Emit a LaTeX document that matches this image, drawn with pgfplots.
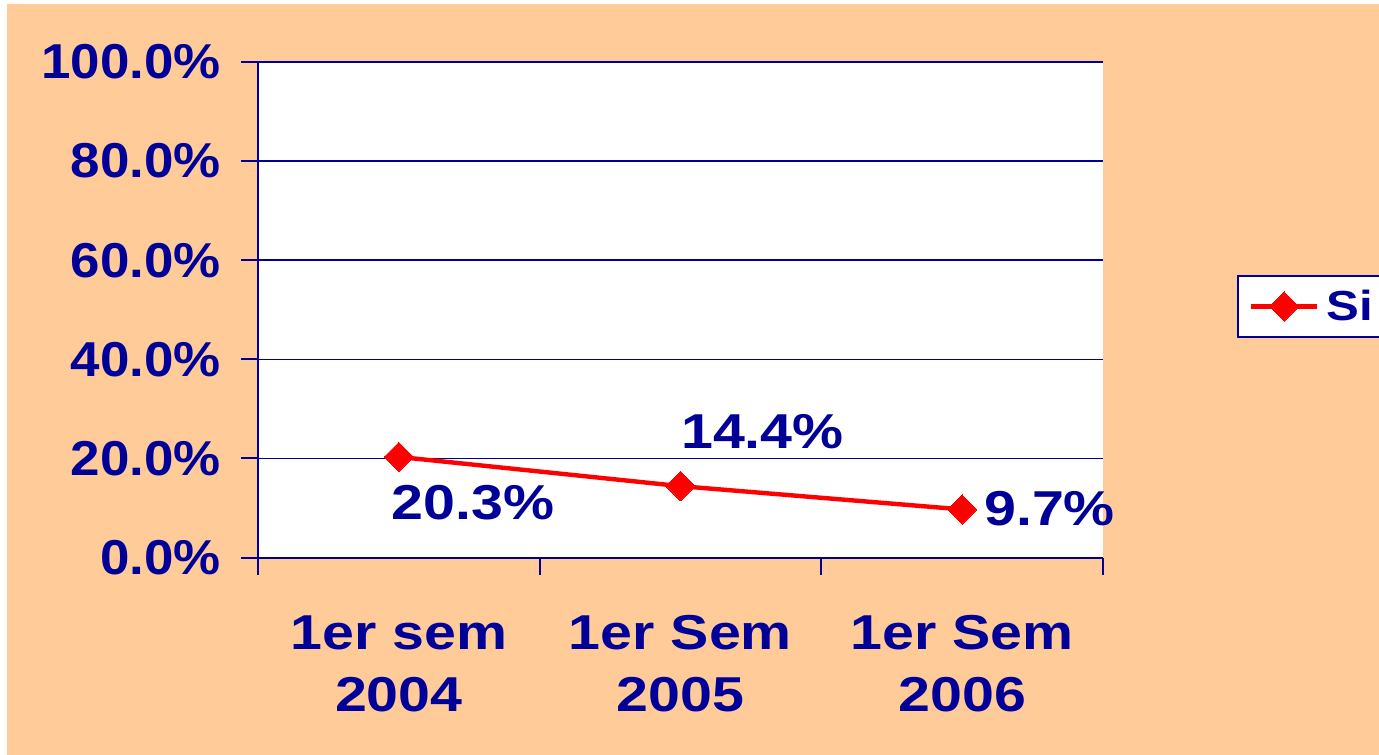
\documentclass[border=0pt]{standalone}
\usepackage{pgfplots}
\pgfplotsset{compat=1.18}
\usepackage{fontspec}
\setmainfont{Liberation Sans}
\newfontfamily\tickfam[FakeStretch=1.08]{Liberation Sans}
\newfontfamily\widefam[FakeStretch=1.17]{Liberation Sans}
\definecolor{peach}{HTML}{FFCC99}
\definecolor{navy}{HTML}{000099}
\newcommand{\tickfont}{\tickfam\fontsize{24.5bp}{31bp}\selectfont\bfseries}
\newcommand{\bigfont}{\widefam\fontsize{24.5bp}{31bp}\selectfont\bfseries}
\newcommand{\legfont}{\widefam\fontsize{21bp}{25bp}\selectfont\bfseries}
\pgfplotstableread{
x y
0 20.3
1 14.4
2 9.7
}\sidata
\begin{document}
\begin{tikzpicture}
\useasboundingbox (0bp,0bp) rectangle (689.5bp,377.5bp);
\fill[white] (0bp,0bp) rectangle (689.5bp,377.5bp);
\fill[peach] (3.5bp,0bp) rectangle (689.5bp,375.5bp);
\begin{axis}[
  at={(129bp,98.75bp)}, anchor=south west,
  scale only axis, width=422.5bp, height=247.75bp,
  xmin=-0.5, xmax=2.5, ymin=0, ymax=100,
  axis background/.style={fill=white},
  axis line style={navy, line width=1bp},
  axis x line*=bottom, axis y line*=left,
  xtick={0,1,2},
  xticklabels={{1er sem\\2004},{1er Sem\\2005},{1er Sem\\2006}},
  minor xtick={-0.5,0.5,1.5,2.5},
  major x tick style={draw=none},
  minor tick length=8.5bp,
  major tick length=8.5bp,
  tick align=outside,
  tick style={navy, line width=1bp},
  ytick={0,20,40,60,80,100},
  yticklabel={\pgfmathprintnumber[fixed,fixed zerofill,precision=1]{\tick}\%},
  /pgf/number format/assume math mode=true,
  ymajorgrids,
  grid style={navy, line width=0.7bp},
  ticklabel style={text=navy},
  xticklabel style={align=center, yshift=-17bp, font=\bigfont},
  yticklabel style={xshift=-6.5bp, font=\tickfont},
  legend style={at={(axis description cs:1.1586,0.5066)}, anchor=west,
    draw=navy, line width=1bp, fill=white, font=\legfont, text=navy,
    inner xsep=5.5bp, inner ysep=5bp},
  legend image code/.code={\draw[mark repeat=2,mark phase=2,#1] plot coordinates {(0bp,0bp) (16.5bp,0bp) (33bp,0bp)};},
  clip=false,
]
\addplot[red, line width=2.2bp, mark=square*, mark size=5.2bp,
  mark options={rotate=45, solid, line width=0pt}] table[x=x,y=y] {\sidata};
\addlegendentry{\hspace*{1.5bp}Si\hspace*{6bp}}
\node[text=navy, font=\bigfont] at (axis cs:0,20.3) [xshift=37bp, yshift=-23bp] {20.3\%};
\node[text=navy, font=\bigfont] at (axis cs:1,14.4) [xshift=41bp, yshift=27.5bp] {14.4\%};
\node[text=navy, font=\bigfont, anchor=west] at (axis cs:2,9.7) [xshift=7.5bp, yshift=0.5bp] {9.7\%};
\end{axis}
\end{tikzpicture}
\end{document}
